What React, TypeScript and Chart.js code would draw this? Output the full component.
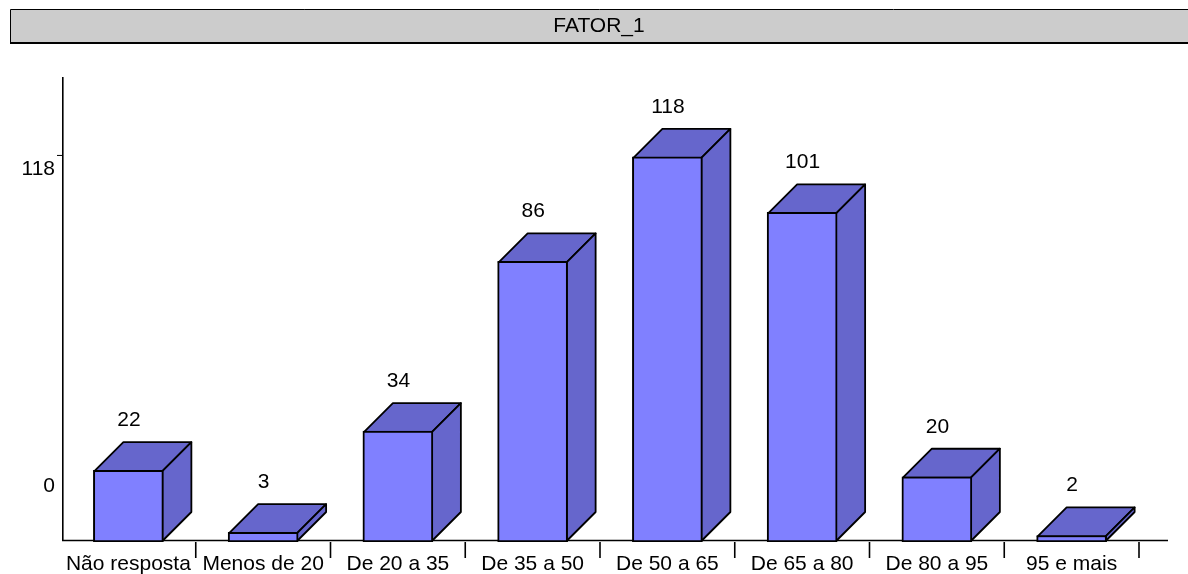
import React, { useEffect, useRef } from "react";
import { Chart, registerables } from "chart.js";

Chart.register(...registerables);

const categories = ["Não resposta", "Menos de 20", "De 20 a 35", "De 35 a 50", "De 50 a 65", "De 65 a 80", "De 80 a 95", "95 e mais"];
const values = [22, 3, 34, 86, 118, 101, 20, 2];
const yTickValues = [0, 118];
const heading = "FATOR_1";

const WIDTH = 1188;
const HEIGHT = 574;
const FONT = "'Liberation Sans', Arial, sans-serif";
const FONT_SIZE = 21;
const FRONT = "#8080ff";
const SHADE = "#6666cc";
const DEPTH = 29;

// Header strip, axes and the extruded faces behind each bar.
const backdrop = {
  id: "backdrop",
  beforeDatasetsDraw(chart: any) {
    const { ctx, scales } = chart;
    const x = scales.x;
    const y = scales.y;
    const base = y.getPixelForValue(0);
    ctx.save();

    ctx.fillStyle = "#cccccc";
    ctx.fillRect(10, 10, WIDTH, 33);
    ctx.strokeStyle = "#000";
    ctx.lineWidth = 1;
    ctx.beginPath();
    ctx.moveTo(WIDTH, 9.5);
    ctx.lineTo(10.5, 9.5);
    ctx.lineTo(10.5, 43);
    ctx.stroke();
    ctx.lineWidth = 2;
    ctx.beginPath();
    ctx.moveTo(10, 43);
    ctx.lineTo(WIDTH, 43);
    ctx.stroke();

    ctx.fillStyle = "#000";
    ctx.font = `${FONT_SIZE}px ${FONT}`;
    ctx.textAlign = "center";
    ctx.textBaseline = "middle";
    ctx.fillText(heading, 599, 26.5);

    // Axis lines
    ctx.lineWidth = 1.6;
    ctx.beginPath();
    ctx.moveTo(62.8, y.top);
    ctx.lineTo(62.8, base - 1.5);
    ctx.lineTo(x.right + 29, base - 1.5);
    ctx.stroke();

    // Boundary ticks between categories
    const step = x.getPixelForValue(1) - x.getPixelForValue(0);
    categories.forEach((_, i) => {
      const px = x.getPixelForValue(i) + step / 2;
      ctx.beginPath();
      ctx.moveTo(px, base);
      ctx.lineTo(px, base + 16);
      ctx.stroke();
    });

    // Value-axis labels sit apart from their tick positions
    ctx.font = `${FONT_SIZE}px ${FONT}`;
    ctx.textAlign = "right";
    const top = yTickValues[1];
    const topPx = y.getPixelForValue(top);
    ctx.lineWidth = 1;
    ctx.beginPath();
    ctx.moveTo(57, topPx - 1.5);
    ctx.lineTo(63, topPx - 1.5);
    ctx.stroke();
    ctx.fillText(String(top), 55, topPx + 12);
    ctx.fillText(String(yTickValues[0]), 55, base - 56);

    // Side and top faces
    ctx.lineWidth = 1.8;
    ctx.lineJoin = "round";
    const meta = chart.getDatasetMeta(0);
    meta.data.forEach((bar: any) => {
      const left = bar.x - bar.width / 2 + 1;
      const right = bar.x + bar.width / 2 - 1;
      const t = bar.y + 1;
      const b = bar.base - 1;
      ctx.fillStyle = SHADE;
      ctx.beginPath();
      ctx.moveTo(left, t);
      ctx.lineTo(left + DEPTH, t - DEPTH);
      ctx.lineTo(right + DEPTH, t - DEPTH);
      ctx.lineTo(right, t);
      ctx.closePath();
      ctx.fill();
      ctx.stroke();
      ctx.beginPath();
      ctx.moveTo(right, t);
      ctx.lineTo(right + DEPTH, t - DEPTH);
      ctx.lineTo(right + DEPTH, b - DEPTH);
      ctx.lineTo(right, b);
      ctx.closePath();
      ctx.fill();
      ctx.stroke();
    });
    ctx.restore();
  },
  afterDatasetsDraw(chart: any) {
    const { ctx } = chart;
    ctx.save();
    ctx.fillStyle = "#000";
    ctx.font = `${FONT_SIZE}px ${FONT}`;
    ctx.textAlign = "center";
    ctx.textBaseline = "middle";
    chart.getDatasetMeta(0).data.forEach((bar: any, i: number) => {
      ctx.fillText(String(values[i]), bar.x + 0.5, bar.y - 50);
    });
    ctx.restore();
  },
};

export default function App() {
  const ref = useRef<HTMLCanvasElement>(null);

  useEffect(() => {
    const chart = new Chart(ref.current!, {
      type: "bar",
      data: {
        labels: categories,
        datasets: [
          {
            data: values,
            backgroundColor: FRONT,
            borderColor: "#000",
            borderWidth: 2,
            borderSkipped: false,
            barThickness: 70,
          },
        ],
      },
      options: {
        animation: false,
        responsive: false,
        layout: { padding: { top: 77, right: 49, left: 0, bottom: 0 } },
        plugins: { legend: { display: false }, tooltip: { enabled: false } },
        scales: {
          x: {
            grid: { display: false },
            border: { display: false },
            afterFit: (s: any) => { s.height = 32; },
            ticks: {
              color: "#000",
              font: { family: FONT, size: FONT_SIZE },
              padding: 2,
              maxRotation: 0,
              autoSkip: false,
            },
          },
          y: {
            min: 0,
            max: 142.5,
            grid: { display: false },
            border: { display: false },
            afterFit: (s: any) => { s.width = 61; },
            ticks: { display: false },
          },
        },
      },
      plugins: [backdrop],
    });
    return () => chart.destroy();
  }, []);

  return (
    <canvas
      ref={ref}
      width={WIDTH}
      height={HEIGHT}
      style={{ position: "fixed", left: 0, top: 0, width: WIDTH, height: HEIGHT, display: "block" }}
    />
  );
}
